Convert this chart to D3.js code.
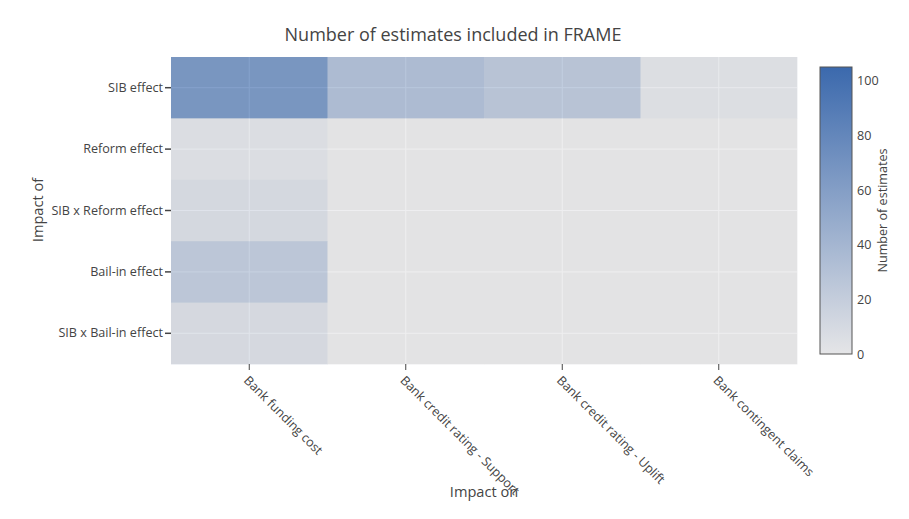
<!DOCTYPE html>
<html>
<head>
<meta charset="utf-8">
<script src="https://cdn.jsdelivr.net/npm/d3@7"></script>
<style>
  body { margin: 0; background: #fff; }
  svg, svg text { font-family: "Open Sans", verdana, arial, sans-serif; }
</style>
</head>
<body>
<div id="chart"></div>
<script>
// Data.
const impactOn = ["Bank funding cost", "Bank credit rating - Support", "Bank credit rating - Uplift", "Bank contingent claims"];
const impactOf = ["SIB effect", "Reform effect", "SIB x Reform effect", "Bail-in effect", "SIB x Bail-in effect"];
// one row per impactOf entry, one value per impactOn column
const estimates = [
  [105, 54, 43, 7],
  [8, 0, 0, 0],
  [15, 0, 0, 0],
  [39, 0, 0, 0],
  [14, 0, 0, 0],
];
const colorTicks = [0, 20, 40, 60, 80, 100];

const width = 909, height = 519;
const margin = { top: 57, right: 112, bottom: 155, left: 171 };
const inner = { w: 797 - margin.left, h: 364 - margin.top };
const font = "'Open Sans', verdana, arial, sans-serif";
const tickFont = 12.6;

const svg = d3.select("#chart").append("svg")
  .attr("width", width).attr("height", height);

const g = svg.append("g").attr("transform", `translate(${margin.left},${margin.top})`);

const x = d3.scaleBand().domain(impactOn).range([0, inner.w]);
const y = d3.scaleBand().domain(impactOf).range([0, inner.h]);
const zMax = 105;
const color = d3.scaleLinear().domain([0, zMax]).range(["#e5e5e7", "#3b69ad"]);

// Plot background and grid (grid sits under the semi transparent cells).
g.append("rect").attr("width", inner.w).attr("height", inner.h).attr("fill", "#e1e1e1");
g.selectAll(".vgrid").data(impactOn).join("line")
  .attr("x1", (d) => x(d) + x.bandwidth() / 2).attr("x2", (d) => x(d) + x.bandwidth() / 2)
  .attr("y1", 0).attr("y2", inner.h).attr("stroke", "#fff").attr("stroke-width", 1);
g.selectAll(".hgrid").data(impactOf).join("line")
  .attr("y1", (d) => y(d) + y.bandwidth() / 2).attr("y2", (d) => y(d) + y.bandwidth() / 2)
  .attr("x1", 0).attr("x2", inner.w).attr("stroke", "#fff").attr("stroke-width", 1);

// Cells.
const cells = [];
estimates.forEach((row, i) => row.forEach((v, j) => cells.push({ of: impactOf[i], on: impactOn[j], v })));
g.append("g").attr("opacity", 0.62).selectAll("rect").data(cells).join("rect")
  .attr("x", (d) => x(d.on)).attr("y", (d) => y(d.of))
  .attr("width", x.bandwidth() + 0.5).attr("height", y.bandwidth() + 0.5)
  .attr("fill", (d) => color(d.v));

// Axes.
const xAxis = g.append("g").attr("transform", `translate(0,${inner.h})`)
  .call(d3.axisBottom(x).tickSize(6).tickPadding(4));
xAxis.attr("font-family", font);
xAxis.select(".domain").remove();
xAxis.selectAll(".tick line").attr("stroke", "#444");
xAxis.selectAll(".tick text")
  .attr("font-size", tickFont).attr("fill", "#444")
  .attr("text-anchor", "start").attr("dy", "0.35em")
  .attr("transform", "translate(-3,14) rotate(45)")
  .attr("x", 0).attr("y", 0);

const yAxis = g.append("g").call(d3.axisLeft(y).tickSize(6).tickPadding(2));
yAxis.attr("font-family", font);
yAxis.select(".domain").remove();
yAxis.selectAll(".tick line").attr("stroke", "#444").attr("stroke-width", 1.5);
yAxis.selectAll(".tick text").attr("font-size", tickFont).attr("fill", "#444");

// Titles.
svg.append("text").attr("x", 453).attr("y", 41).attr("text-anchor", "middle")
  .attr("font-size", 18).attr("fill", "#444").text("Number of estimates included in FRAME");
svg.append("text").attr("x", 484).attr("y", 497).attr("text-anchor", "middle")
  .attr("font-size", 14.6).attr("fill", "#444").text("Impact on");
svg.append("text").attr("transform", "translate(43,210) rotate(-90)").attr("text-anchor", "middle")
  .attr("font-size", 14.6).attr("fill", "#444").text("Impact of");

// Colorbar.
const cb = { x: 820, y: 67, w: 32, h: 287 };
const cy = d3.scaleLinear().domain([0, zMax]).range([cb.y + cb.h, cb.y]);
const grad = svg.append("defs").append("linearGradient").attr("id", "cbgrad")
  .attr("x1", 0).attr("y1", 1).attr("x2", 0).attr("y2", 0);
grad.append("stop").attr("offset", 0).attr("stop-color", color(0));
grad.append("stop").attr("offset", 1).attr("stop-color", color(zMax));
svg.append("rect").attr("x", cb.x).attr("y", cb.y).attr("width", cb.w).attr("height", cb.h)
  .attr("fill", "url(#cbgrad)").attr("stroke", "#555").attr("stroke-width", 1);
const cAxis = svg.append("g").attr("transform", `translate(${cb.x + cb.w},0)`)
  .call(d3.axisRight(cy).tickValues(colorTicks).tickSize(0).tickPadding(5));
cAxis.attr("font-family", font);
cAxis.select(".domain").remove();
cAxis.selectAll(".tick text").attr("font-size", tickFont).attr("fill", "#444");
svg.append("text").attr("transform", `translate(887,${cb.y + cb.h / 2}) rotate(-90)`)
  .attr("text-anchor", "middle").attr("font-size", tickFont).attr("fill", "#444").text("Number of estimates");
</script>
</body>
</html>
